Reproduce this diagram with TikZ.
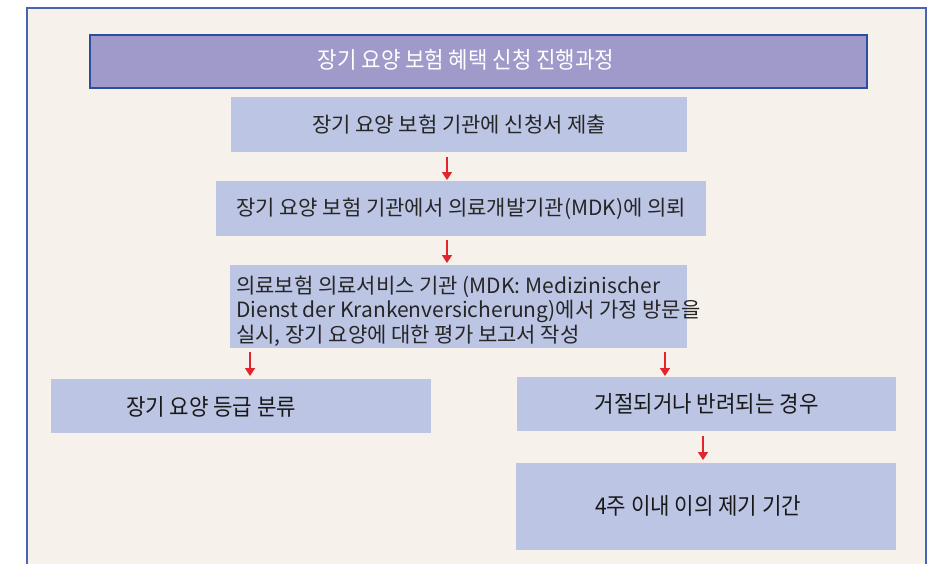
\documentclass[tikz,border=0pt]{standalone}
\usepackage{fontspec}
\setmainfont{Noto Sans CJK KR}
\newfontfamily\krnarrow[FakeStretch=0.92]{Noto Sans CJK KR}
\usetikzlibrary{arrows.meta,calc}
\definecolor{bgcream}{HTML}{F6F1EA}
\definecolor{boxblue}{HTML}{BCC5E4}
\definecolor{titlefill}{HTML}{A09ACA}
\definecolor{titleborder}{HTML}{2B4F9E}
\definecolor{frameblue}{HTML}{4A64B4}
\definecolor{arrowred}{HTML}{E3242B}
\tikzset{
  flowbox/.style={fill=boxblue, draw=none, inner sep=0pt, anchor=north west},
  flowarrow/.style={draw=arrowred, line width=1.5pt, -{Triangle[length=8pt,width=10pt]}},
  midtext/.style={font=\fontsize{21}{24.5}\selectfont, text=black!85},
  narrowtext/.style={font=\krnarrow\fontsize{23}{26}\selectfont, text=black!90},
}
\begin{document}
\begin{tikzpicture}[x=1pt,y=-1pt]
\useasboundingbox (0,0) rectangle (931,563);
\fill[white] (0,0) rectangle (931,563);
\fill[bgcream] (27,8) rectangle (926,570);
\draw[frameblue, line width=1.6pt] (27,570) -- (27,8) -- (926,8) -- (926,570);
% title
\node[fill=titlefill, draw=titleborder, line width=2.2pt, minimum width=777pt, minimum height=53pt, inner sep=0pt, anchor=north west] (title) at (89,34) {};
\node[font=\krnarrow\fontsize{23}{26}\selectfont, text=white] (titlet) at (466,60) {장기 요양 보험 혜택 신청 진행과정};
% boxes
\node[flowbox, minimum width=456pt, minimum height=55pt, anchor=north west, midtext] (b1) at (231,97) {장기 요양 보험 기관에 신청서 제출};
\node[flowbox, minimum width=490pt, minimum height=55pt, anchor=north west, midtext] (b2) at (216,181) {장기 요양 보험 기관에서 의료개발기관(MDK)에 의뢰};
\node[flowbox, minimum width=457pt, minimum height=83pt, anchor=north west] (b3) at (230,265) {};
\node[midtext, align=left, anchor=base west, inner sep=0pt] (b3t) at (236,342) {의료보험 의료서비스 기관 (MDK: Medizinischer\\Dienst der Krankenversicherung)에서 가정 방문을\\실시, 장기 요양에 대한 평가 보고서 작성};
\node[flowbox, minimum width=380pt, minimum height=54pt] (b4) at (51,379) {};
\node[narrowtext] (b4t) at (211,407) {장기 요양 등급 분류};
\node[flowbox, minimum width=379pt, minimum height=54pt, narrowtext] (b5) at (517,377) {거절되거나 반려되는 경우};
\node[flowbox, minimum width=380pt, minimum height=87pt] (b6) at (516,463) {};
\node[narrowtext] (b6t) at (698,506) {4주 이내 이의 제기 기간};
% arrow columns
\coordinate (c1) at (447,0);
\coordinate (c2) at (250,0);
\coordinate (c3) at (665,0);
\coordinate (c4) at (703,0);
\draw[flowarrow] ($(b1.south -| c1)+(0,5)$) -- ($(b2.north -| c1)+(0,-1)$);
\draw[flowarrow] ($(b2.south -| c1)+(0,4)$) -- ($(b3.north -| c1)+(0,-2)$);
\draw[flowarrow] ($(b3.south -| c2)+(0,4)$) -- ($(b4.north -| c2)+(0,-3)$);
\draw[flowarrow] ($(b3.south -| c3)+(0,4)$) -- ($(b5.north -| c3)+(0,-1)$);
\draw[flowarrow] ($(b5.south -| c4)+(0,5)$) -- ($(b6.north -| c4)+(0,-3)$);
\end{tikzpicture}
\end{document}
